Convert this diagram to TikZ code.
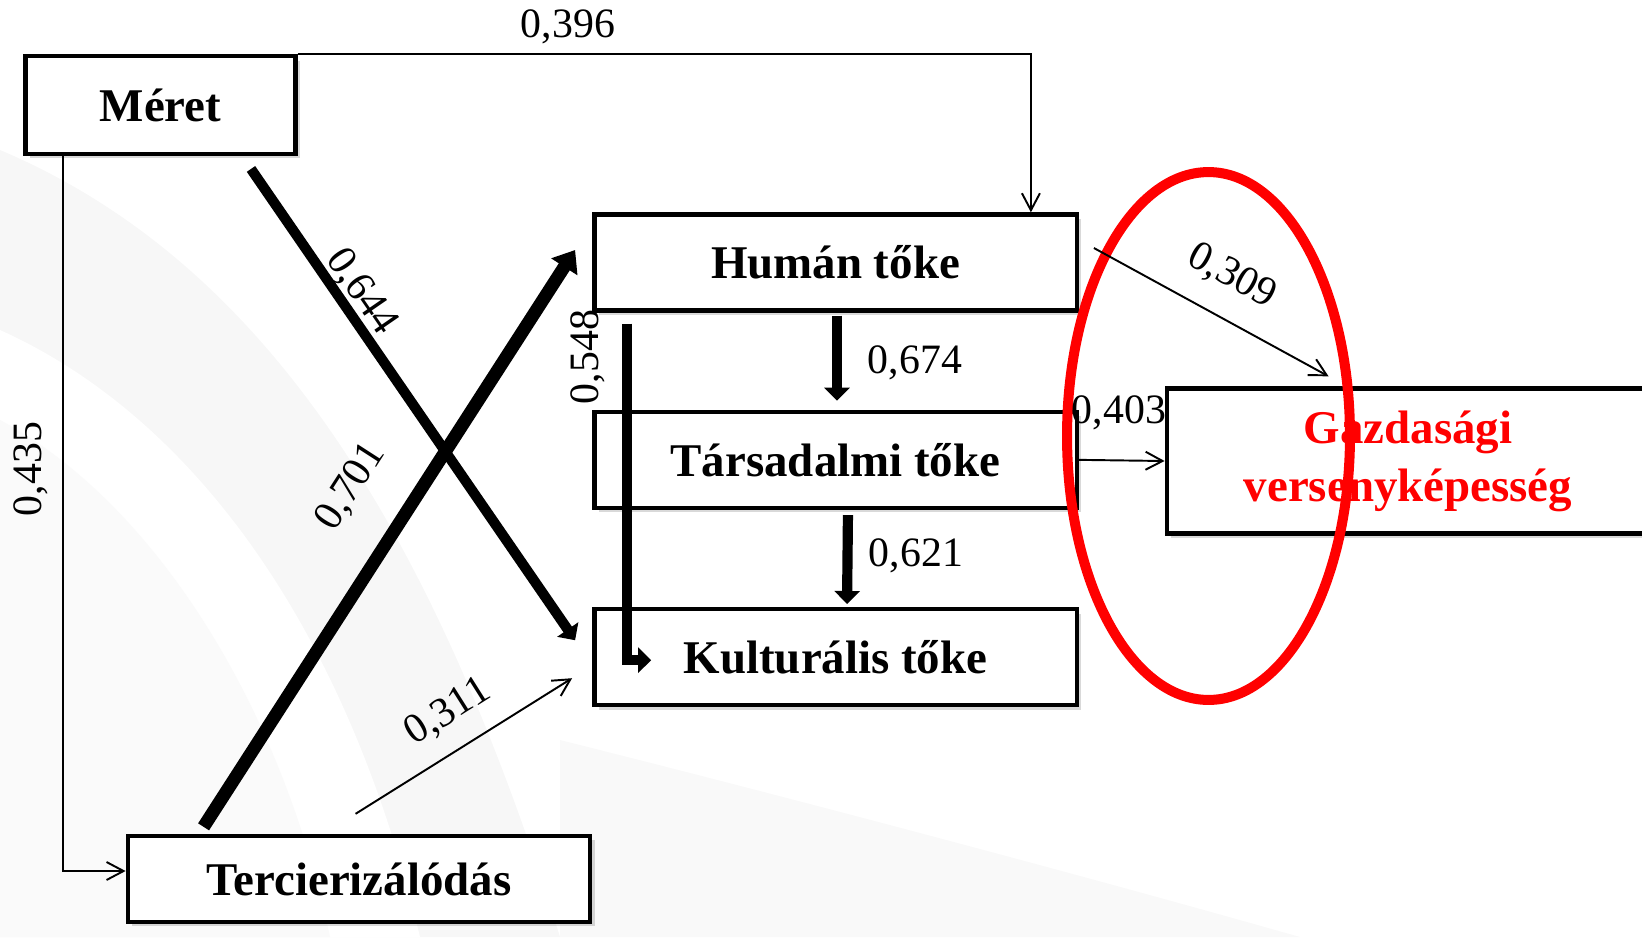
\documentclass[tikz,border=0pt]{standalone}
\usepackage{fontspec}
\setmainfont{Liberation Serif}
\usetikzlibrary{arrows.meta,positioning,shadows,backgrounds}

\begin{document}
\begin{tikzpicture}[
    % one unit is one pixel of the slide, y runs downwards
    x=0.02cm, y=-0.02cm,
    % general settings
    node distance=1.94cm,
    % nodes
    base/.style={rectangle, draw=black, line width=2.5pt, fill=white, inner sep=0pt,
                 align=center, font=\bfseries\fontsize{26.7}{33}\selectfont,
                 drop shadow={shadow xshift=2.5pt, shadow yshift=-2.5pt, opacity=0.25, fill=black!60}},
    factor/.style={base, minimum width=9.65cm, minimum height=1.92cm},
    goal/.style={base, text=red, minimum width=9.65cm, minimum height=2.9cm},
    coef/.style={font=\fontsize{23.8}{28}\selectfont, inner sep=0pt},
    % arrows
    weak/.style={black, line width=1.1pt, -{Straight Barb[length=0.34cm, width=0.36cm]}},
    strong/.style={black, line width=5.8pt, -{Triangle[length=0.26cm, width=0.5cm]}},
    strongest/.style={black, line width=7.4pt, -{Triangle[length=0.4cm, width=0.6cm]}}
  ]

  \useasboundingbox (0,0) rectangle (1642,937);

  \node (meret)  [base, minimum width=5.4cm, minimum height=1.95cm] at (160.5,105) {Méret};

  \node (human)  [factor] at (835.5,262.5)                {Humán tőke};
  \node (tars)   [factor, below=of human]                 {Társadalmi tőke};
  \node (kult)   [factor, below=of tars]                  {Kulturális tőke};

  \node (gazd)   [goal] at (1408,461)                     {Gazdasági\\versenyképesség};

  \node (terc)   [base, minimum width=9.25cm, minimum height=1.72cm] at (359,879)
                                                          {Tercierizálódás};

  % the circled part
  \draw[red, line width=5.7pt] (1208.5,436) ellipse [x radius=2.83cm, y radius=5.28cm];

  % paths
  \draw[weak]      (meret.north east) -| ([xshift=-0.96cm]human.north east);
  \draw[weak]      ([xshift=0.8cm]meret.south west) |- ([yshift=0.16cm]terc.west);
  \draw[strong]    ([xshift=1.81cm, yshift=-0.26cm]meret.south)
                     -- ([xshift=-0.34cm, yshift=0.34cm]kult.west);
  \draw[strongest] ([xshift=1.56cm, yshift=0.14cm]terc.north west)
                     -- ([xshift=-0.34cm, yshift=0.25cm]human.west);
  \draw[weak]      ([xshift=4.6cm, yshift=0.4cm]terc.north west)
                     -- ([xshift=-0.4cm, yshift=-0.42cm]kult.west);
  \draw[strong]    ([xshift=0.7cm, yshift=-0.22cm]human.south west)
                     |- ([xshift=1.18cm, yshift=-0.06cm]kult.west);
  \draw[strong, shorten <=0.06cm, shorten >=0.18cm] ([xshift=0.03cm]human.south)
                     -- ([xshift=0.03cm]tars.north);
  \draw[strong, shorten <=0.1cm, shorten >=0.06cm]  ([xshift=0.25cm]tars.south)
                     -- ([xshift=0.23cm]kult.north);
  \draw[weak]      ([xshift=0.3cm, yshift=0.29cm]human.east)
                     -- ([xshift=3.28cm, yshift=0.2cm]gazd.north west);
  \draw[weak]      (tars.east) -- (gazd.west);

  % coefficients
  \node (c396) [coef]             at (568,27)   {0,396};
  \node (c435) [coef, rotate=90]  at (31,469)   {0,435};
  \node (c644) [coef, rotate=-55.4] at (361,292) {0,644};
  \node (c701) [coef, rotate=57.2]  at (351,487) {0,701};
  \node (c311) [coef, rotate=32.3]  at (448,712) {0,311};
  \node (c548) [coef, rotate=90]  at (588,357)  {0,548};
  \node (c674) [coef]             at (915,363)  {0,674};
  \node (c621) [coef]             at (916,556)  {0,621};
  \node (c309) [coef, rotate=-28.5] at (1232,277) {0,309};
  \node (c403) [coef]             at (1119,413) {0,403};

  % faint slide background
  \begin{scope}[on background layer]
    \fill[black!3]   (0,150) .. controls (260,260) and (430,520) .. (560,937) -- (0,937) -- cycle;
    \fill[white]     (0,330) .. controls (200,420) and (350,640) .. (420,937) -- (0,937) -- cycle;
    \fill[black!2]   (0,420) .. controls (150,500) and (280,700) .. (330,937) -- (0,937) -- cycle;
    \fill[black!2.5] (560,740) .. controls (800,800) and (1100,880) .. (1300,937) -- (560,937) -- cycle;
  \end{scope}
\end{tikzpicture}
\end{document}
